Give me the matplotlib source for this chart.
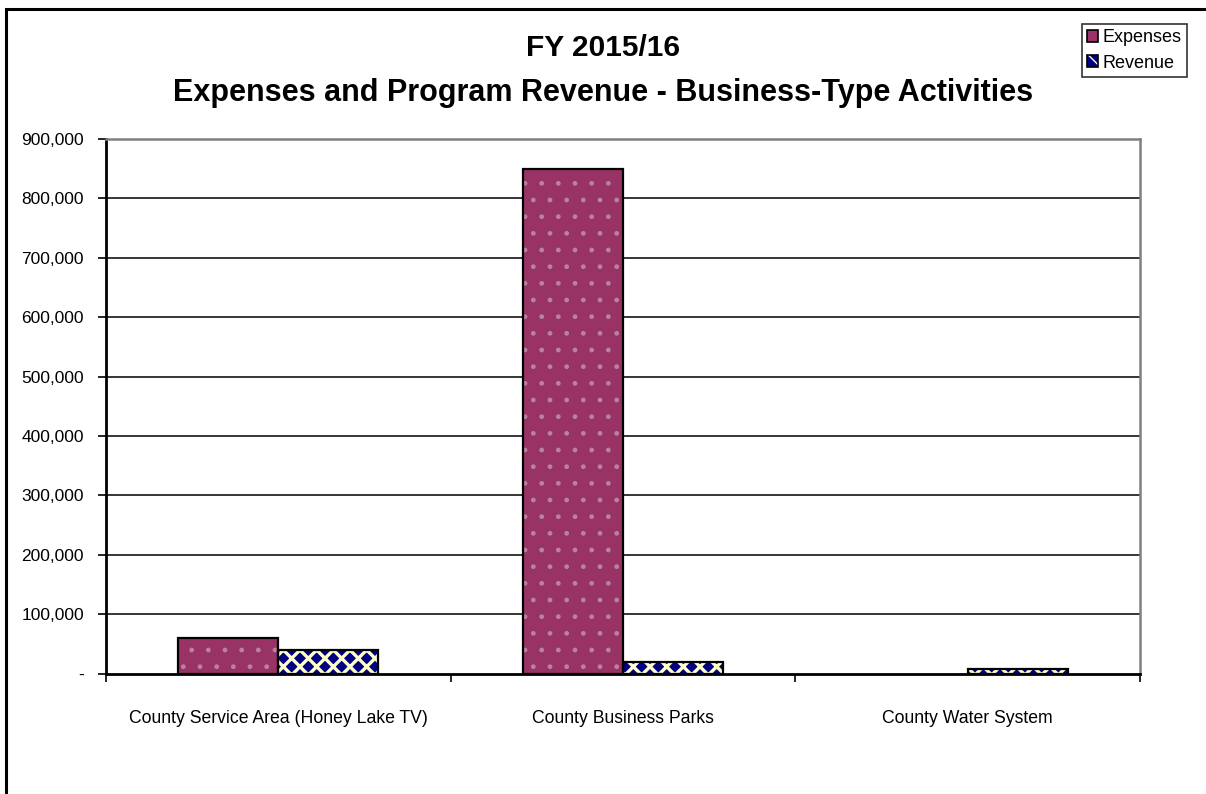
import matplotlib
matplotlib.use("Agg")
import matplotlib.pyplot as plt
import numpy as np
from matplotlib.patches import Patch, Rectangle
from matplotlib.legend_handler import HandlerTuple
from matplotlib.ticker import FuncFormatter

plt.rcParams['font.family'] = ['Liberation Sans', 'DejaVu Sans']

categories = ["County Service Area (Honey Lake TV)", "County Business Parks", "County Water System"]
expenses = [60000, 850000, 0]
revenue = [40000, 19000, 7000]
title_lines = ["FY 2015/16", "Expenses and Program Revenue - Business-Type Activities"]

EXP_FACE = "#993366"
EXP_DOT = "#b9829f"
REV_FACE = "#000080"
REV_PAT = "#ffffcc"

fig = plt.figure(figsize=(12.06, 7.94), dpi=100)
ax = fig.add_axes([106 / 1206, 1 - 673.5 / 794, (1140 - 106) / 1206, (673.5 - 139) / 794])

x = np.arange(len(categories))
w = 0.29

# Expenses: dotted magenta fill, then black outline
fill_e = ax.bar(x - w / 2, expenses, w, color=EXP_FACE, edgecolor=EXP_DOT, linewidth=0, hatch=".", zorder=3)
out_e = ax.bar(x - w / 2, expenses, w, fill=False, edgecolor="black", linewidth=1.6, zorder=4)

# Revenue: navy fill with light lattice pattern, then black outline
fill_r = ax.bar(x + w / 2, revenue, w, color=REV_FACE, edgecolor=REV_PAT, linewidth=0, hatch="xx", zorder=3)
for p in fill_r:
    if hasattr(p, "set_hatch_linewidth"):
        p.set_hatch_linewidth(2.4)
out_r = ax.bar(x + w / 2, revenue, w, fill=False, edgecolor="black", linewidth=1.6, zorder=4)
for bars, vals in ((out_e, expenses), (out_r, revenue)):
    for p, v in zip(bars, vals):
        if v == 0:
            p.set_visible(False)

ax.set_xlim(-0.5, len(categories) - 0.5)
ax.set_ylim(0, 900000)
ax.set_yticks(np.arange(0, 900001, 100000))
ax.yaxis.set_major_formatter(FuncFormatter(lambda v, _: "-" if v == 0 else f"{int(v):,}"))
ax.set_xticks(x)
ax.set_xticklabels(categories)
ax.set_xticks(np.arange(-0.5, len(categories), 1.0), minor=True)
ax.tick_params(axis="x", which="major", length=0, pad=26, labelsize=12.7)
ax.tick_params(axis="x", which="minor", length=6, width=1.2, direction="out")
ax.tick_params(axis="y", length=6, width=1.2, direction="out", labelsize=12.5, pad=10)

for v in np.arange(100000, 900000, 100000):
    ax.axhline(v, color="black", linewidth=1.1, zorder=1)

ax.spines["left"].set_linewidth(2)
ax.spines["bottom"].set_linewidth(2)
ax.spines["bottom"].set_zorder(5)
ax.spines["top"].set_color("#808080")
ax.spines["right"].set_color("#808080")
ax.spines["top"].set_linewidth(1.8)
ax.spines["right"].set_linewidth(1.8)

fig.text(0.5, 1 - 48 / 794, title_lines[0], ha="center", va="center", fontsize=21.5, fontweight="bold")
fig.text(0.5, 1 - 93 / 794, title_lines[1], ha="center", va="center", fontsize=22, fontweight="bold")

h_e = (Patch(facecolor=EXP_FACE, edgecolor="none"), Patch(facecolor="none", edgecolor="black", linewidth=1.2))
h_r = (Patch(facecolor=REV_FACE, edgecolor=REV_PAT, hatch="x", linewidth=0), Patch(facecolor="none", edgecolor="black", linewidth=1.2))
leg = fig.legend([h_e, h_r], ["Expenses", "Revenue"], handler_map={tuple: HandlerTuple(ndivide=1)},
                 loc="upper left", bbox_to_anchor=(1082 / 1206, 1 - 24 / 794), fontsize=13,
                 frameon=True, fancybox=False, edgecolor="black", handlelength=0.6, handleheight=0.6,
                 handletextpad=0.25, borderpad=0.3, labelspacing=0.45, borderaxespad=0)
leg.get_frame().set_linewidth(1.2)

# outer chart border
fig.patches.append(Rectangle((6 / 1206, -0.05), 1.1, 1 - 9 / 794 + 0.05, transform=fig.transFigure,
                             fill=False, edgecolor="black", linewidth=2.2, zorder=0))

fig.savefig("out.png", dpi=100)
